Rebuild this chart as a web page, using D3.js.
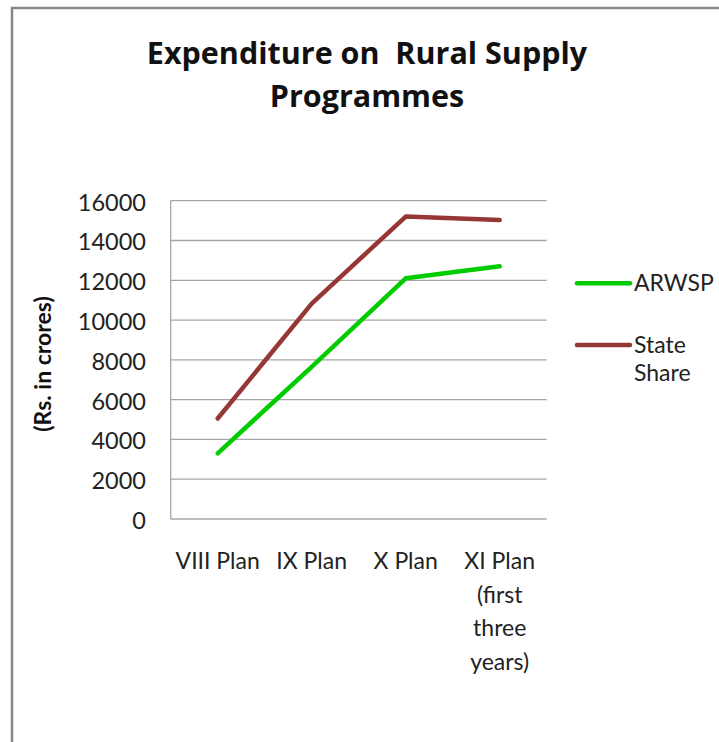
<!DOCTYPE html>
<html>
<head>
<meta charset="utf-8">
<script src="https://cdn.jsdelivr.net/npm/d3@7"></script>
<style>
  html, body { margin: 0; padding: 0; background: #fff; }
  svg { display: block; font-family: Lato, "Open Sans", sans-serif; }
  text { white-space: pre; }
</style>
</head>
<body>
<svg id="chart" width="719" height="742"></svg>
<script>
const categories = ["VIII Plan", "IX Plan", "X Plan", "XI Plan\n(first\nthree\nyears)"];
const arwsp = [3300, 7650, 12100, 12700];
const stateShare = [5050, 10830, 15200, 15030];
const seriesNames = ["ARWSP", "State\nShare"];
const yTicks = [0, 2000, 4000, 6000, 8000, 10000, 12000, 14000, 16000];
const titleLines = ["Expenditure on  Rural Supply", "Programmes"];
const yTitle = "(Rs. in crores)";

const colors = ["#00cc00", "#953735"];
const svg = d3.select("#chart");

// outer border
svg.append("path")
  .attr("d", "M12,742 L12,8 L719,8")
  .attr("fill", "none").attr("stroke", "#888").attr("stroke-width", 2.5);

const plot = { left: 170.7, right: 546.7, top: 200.7, bottom: 519 };
const x = d3.scaleBand().domain(categories).range([plot.left, plot.right]);
const y = d3.scaleLinear().domain([0, 16000]).range([plot.bottom, plot.top]);

// gridlines
svg.append("g").selectAll("line").data(yTicks).join("line")
  .attr("x1", plot.left).attr("x2", plot.right)
  .attr("y1", d => y(d)).attr("y2", d => y(d))
  .attr("stroke", "#a6a6a6").attr("stroke-width", 1.3);

// y axis line
svg.append("line")
  .attr("x1", plot.left).attr("x2", plot.left)
  .attr("y1", plot.top).attr("y2", plot.bottom)
  .attr("stroke", "#a6a6a6").attr("stroke-width", 1.3);

// y tick labels
svg.append("g").selectAll("text").data(yTicks).join("text")
  .attr("x", 146).attr("y", d => y(d) + 1)
  .attr("text-anchor", "end").attr("dominant-baseline", "central")
  .attr("font-size", 23.5).attr("fill", "#222")
  .text(d => d);

// x labels
const xl = svg.append("g").selectAll("text").data(categories).join("text")
  .attr("text-anchor", "middle").attr("font-size", 23).attr("fill", "#222");
xl.each(function(d) {
  const t = d3.select(this);
  d.split("\n").forEach((line, i) => {
    t.append("tspan")
      .attr("x", x(d) + x.bandwidth() / 2)
      .attr("y", 569 + i * 33.5)
      .text(line);
  });
});

// y title
svg.append("text")
  .attr("transform", "translate(51,364) rotate(-90)")
  .attr("text-anchor", "middle").attr("font-size", 23).attr("font-weight", "bold")
  .attr("fill", "#111")
  .text(yTitle);

// title
svg.append("g").selectAll("text").data(titleLines).join("text")
  .attr("x", 367).attr("y", (d, i) => 64 + i * 43)
  .attr("text-anchor", "middle").attr("font-size", 30.5).attr("font-weight", "bold")
  .attr("font-family", "'Open Sans', sans-serif")
  .attr("fill", "#111")
  .text(d => d);

// lines
const line = d3.line()
  .x((d, i) => x(categories[i]) + x.bandwidth() / 2)
  .y(d => y(d));
[arwsp, stateShare].forEach((s, k) => {
  svg.append("path").datum(s)
    .attr("d", line)
    .attr("fill", "none").attr("stroke", colors[k])
    .attr("stroke-width", 4.5).attr("stroke-linecap", "round").attr("stroke-linejoin", "round");
});

// legend
const legY = [283.3, 345];
seriesNames.forEach((name, k) => {
  svg.append("line")
    .attr("x1", 577).attr("x2", 630).attr("y1", legY[k]).attr("y2", legY[k])
    .attr("stroke", colors[k]).attr("stroke-width", 4.5).attr("stroke-linecap", "round");
  const t = svg.append("text").attr("font-size", 23).attr("fill", "#222");
  name.split("\n").forEach((ln, i) => {
    t.append("tspan").attr("x", 634).attr("y", legY[k] + 7.8 + i * 28.5).text(ln);
  });
});
</script>
</body>
</html>
